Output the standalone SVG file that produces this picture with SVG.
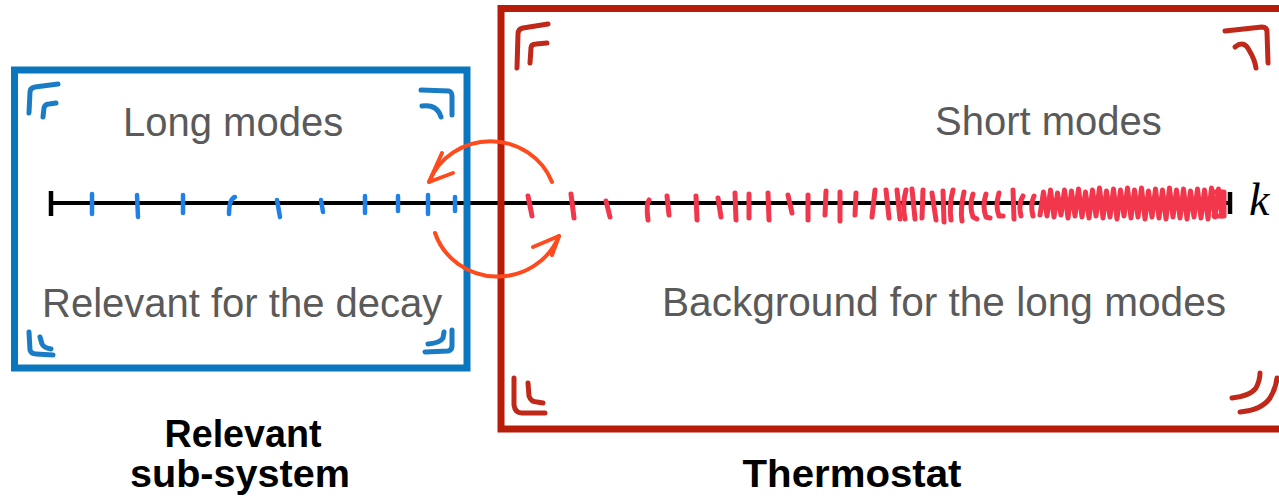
<svg xmlns="http://www.w3.org/2000/svg" width="1279" height="504" viewBox="0 0 1279 504">
<style>
.lbl{font-family:"Liberation Sans",Arial,sans-serif;font-size:40px;fill:#5a5a5a}
.ttl{font-family:"Liberation Sans",Arial,sans-serif;font-size:38px;font-weight:bold;fill:#000}
.bt{stroke:#1f80e8;stroke-width:4.5;stroke-linecap:round;fill:none}
.rt{stroke:#f2364c;stroke-width:5;stroke-linecap:round;stroke-linejoin:round;fill:none}
.bc{stroke:#1a7cc4;stroke-width:5;stroke-linecap:round;stroke-linejoin:round;fill:none}
.rc{stroke:#c0281a;stroke-width:5;stroke-linecap:round;stroke-linejoin:round;fill:none}
.arr{stroke:#ff4a1e;stroke-width:4;stroke-linecap:round;stroke-linejoin:round;fill:none}
</style>
<rect width="1279" height="504" fill="#fff"/>
<g id="axis">
<line x1="50" y1="203" x2="1230" y2="203" stroke="#000" stroke-width="4"/>
<line x1="51" y1="191" x2="51" y2="216" stroke="#000" stroke-width="4.5"/>
<line x1="1230" y1="192" x2="1230" y2="214" stroke="#000" stroke-width="4.5"/>
<text x="1249" y="215" font-family="Liberation Serif,serif" font-style="italic" font-size="46">k</text>
<g id="blue-ticks">
<path class="bt" d="M92,194 L92,214"/>
<path class="bt" d="M137,195 L138,217"/>
<path class="bt" d="M183,195 L183,213"/>
<path class="bt" d="M235,197 Q229,199 229,214"/>
<path class="bt" d="M277,200 L280,217"/>
<path class="bt" d="M321,200 L323,212"/>
<path class="bt" d="M365,196 L365,213"/>
<path class="bt" d="M398,196 L398,211"/>
<path class="bt" d="M428,195 L428,214"/>
<path class="bt" d="M455,197 L455,211"/>
</g>
<g id="red-ticks">
<path class="rt" d="M528,196 L532,216"/>
<path class="rt" d="M571,194 L574,218"/>
<path class="rt" d="M606,201 L610,217"/>
<path class="rt" d="M649,200 Q646,204 648,220"/>
<path class="rt" d="M667,196 L669,215"/>
<path class="rt" d="M696,196 L697,220"/>
<path class="rt" d="M718,198 L721,217"/>
<path class="rt" d="M735,193 L736,220"/>
<path class="rt" d="M749,194 L749,218"/>
<path class="rt" d="M768,193 L769,220"/>
<path class="rt" d="M788,195 L792,213"/>
<path class="rt" d="M808,195 L808,220"/>
<path class="rt" d="M826,191 L825,215"/>
<path class="rt" d="M840,192 L840,221"/>
<path class="rt" d="M856,193 L855,215"/>
<path class="rt" d="M875,190 L872,217"/>
<path class="rt" d="M886,190 L889,218"/>
<path class="rt" d="M897,190 L900,219"/>
<path class="rt" d="M906,190 Q902,205 905,219"/>
<path class="rt" d="M912,189 L915,219"/>
<path class="rt" d="M923,190 L922,218"/>
<path class="rt" d="M932,193 L936,220"/>
<path class="rt" d="M943,191 L944,222"/>
<path class="rt" d="M953,190 Q949,205 951,220"/>
<path class="rt" d="M964,192 Q960,210 962,221"/>
<path class="rt" d="M973,194 Q969,206 973,217 L977,219"/>
<path class="rt" d="M986,194 Q982,206 986,217 L990,218"/>
<path class="rt" d="M999,193 Q995,206 999,216 L1003,216"/>
<path class="rt" d="M1013,190 L1014,219"/>
<path class="rt" d="M1023,196 Q1018,204 1021,216"/>
<path class="rt" d="M1034,196 Q1030,205 1033,216"/>
<polyline class="rt" stroke-width="4.5" points="1040,215 1043.5,192 1047,216 1050.5,190 1054,217 1057.5,193 1061,215 1064.5,190 1068,218 1071.5,191 1075,216 1078.5,189 1082,217 1085.5,192 1089,218 1092.5,190 1096,216 1099.5,188 1103,218 1106.5,191 1110,217 1113.5,189 1117,219 1120.5,190 1124,216 1127.5,188 1131,218 1134.5,190 1138,217 1141.5,188 1145,219 1148.5,191 1152,217 1155.5,189 1159,218 1162.5,190 1166,219 1169.5,188 1173,217 1176.5,190 1180,218 1183.5,189 1187,219 1190.5,191 1194,217 1197.5,189 1201,218 1204.5,190 1208,219 1211.5,188 1215,217 1218.5,189 1222,216"/>
<path class="rt" d="M1214,192 L1224,192 L1224,216 L1214,216" stroke-width="5"/>
</g>
</g>
<g id="relevant-subsystem">
<rect x="14.5" y="70" width="452.5" height="298" fill="none" stroke="#0a76be" stroke-width="7"/>
<path class="bc" d="M29,113 L30,92 Q30,88 35,87 L58,84"/>
<path class="bc" d="M43,117 L44,108 Q45,104 49,104 L56,103"/>
<path class="bc" d="M421,90 L449,91 Q452,92 452,96 L452,115"/>
<path class="bc" d="M422,106 Q437,104 441,117"/>
<path class="bc" d="M29,332 L30,350 Q31,354 36,354 L53,355"/>
<path class="bc" d="M40,337 L42,344 Q44,348 51,349"/>
<path class="bc" d="M425,352 L448,351 Q452,350 452,346 L452,330"/>
<path class="bc" d="M428,344 Q440,343 443,338 L444,332"/>
<text class="lbl" x="123" y="136">Long modes</text>
<text class="lbl" x="42" y="317">Relevant for the decay</text>
<text class="ttl" x="243" y="447" text-anchor="middle" textLength="157" lengthAdjust="spacingAndGlyphs">Relevant</text>
<text class="ttl" x="240" y="487" text-anchor="middle" textLength="220" lengthAdjust="spacingAndGlyphs">sub-system</text>
</g>
<g id="thermostat">
<rect x="501" y="8.5" width="800" height="420.5" fill="none" stroke="#b81d0a" stroke-width="7"/>
<path class="rc" d="M517,68 L518,34 Q518,29 523,28 L548,24"/>
<path class="rc" d="M530,63 L531,48 Q531,44 536,44 L547,43"/>
<path class="rc" d="M1225,31 L1262,27 Q1267,27 1267,32 L1268,63"/>
<path class="rc" d="M1235,47 Q1244,40 1249,50 Q1255,60 1256,68"/>
<path class="rc" d="M514,378 L514,405 Q515,413 522,413 L545,413"/>
<path class="rc" d="M528,383 L529,396 Q531,402 537,402 L543,403"/>
<path class="rc" d="M1232,398 Q1250,396 1256,388 Q1260,380 1260,373"/>
<path class="rc" d="M1240,412 Q1262,410 1270,398 Q1276,388 1277,378"/>
<text class="lbl" x="935" y="135">Short modes</text>
<text class="lbl" x="662" y="316" textLength="564" lengthAdjust="spacingAndGlyphs">Background for the long modes</text>
<text class="ttl" x="852" y="487" text-anchor="middle" textLength="219" lengthAdjust="spacingAndGlyphs">Thermostat</text>
</g>
<g id="connectors">
<path class="arr" d="M552,182 A66,64 0 0 0 429,182"/>
<path class="arr" d="M442,153 L429,182 L453,173"/>
<path class="arr" d="M435,233 A66,64 0 0 0 559,236"/>
<path class="arr" d="M533,247 L559,236 L552,255"/>
</g>
</svg>
